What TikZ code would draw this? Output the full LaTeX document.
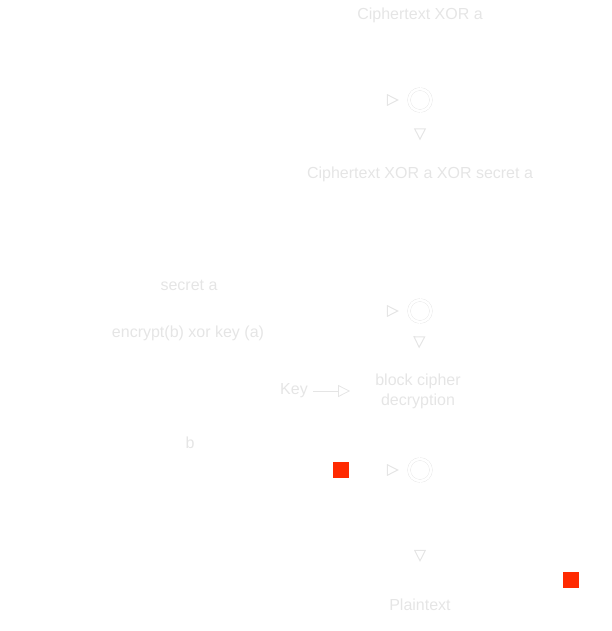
\documentclass[tikz,border=0pt]{standalone}
\usepackage{fontspec}
\setmainfont{Liberation Sans}
\usetikzlibrary{arrows.meta}
\definecolor{ghost}{gray}{0.9}
\definecolor{marker}{HTML}{FF2A00}
\tikzset{
  lbl/.style={text=ghost, font=\fontsize{16}{20}\selectfont, inner sep=0pt},
  xorc/.style={circle, draw=ghost, double=white, double distance=2.5pt, minimum size=22pt, inner sep=0pt},
  tiparrow/.style={-{Triangle[length=12pt,width=12pt,open,color=ghost]}},
  wire/.style={white, line width=1pt},
  keywire/.style={ghost, line width=0.8pt},
  redsq/.style={fill=marker, draw=none, minimum size=16pt, inner sep=0pt}
}
\begin{document}
\begin{tikzpicture}[x=1pt,y=-1pt]
\useasboundingbox (0,0) rectangle (611,631);
\node[lbl] (ct) at (420,15) {Ciphertext XOR a};
\node[xorc] (x1) at (420,100) {};
\node[lbl] (ct2) at (420,174) {Ciphertext XOR a XOR secret a};
\node[lbl] (sa) at (189,285) {secret a};
\node[lbl] (enc) at (188,333) {encrypt(b) xor key (a)};
\node[xorc] (x2) at (420,311) {};
\node[lbl, align=center] (bc) at (418,391) {block cipher\\decryption};
\node[lbl] (key) at (294,391) {Key};
\node[lbl] (b) at (190,443) {b};
\node[xorc] (x3) at (420,470) {};
\node[lbl] (pt) at (420,605) {Plaintext};

\draw[wire] (ct) -- (x1);
\draw[wire, tiparrow, shorten >=10pt] (sa) |- (x1.west);
\draw[wire, tiparrow, shorten >=26pt] (x1) -- (ct2);
\draw[wire] (ct2) -- (x2);
\draw[wire, tiparrow, shorten >=10pt] (enc) |- (x2.west);
\draw[wire, tiparrow, shorten >=25pt] (x2) -- (bc);
\draw[keywire, tiparrow, shorten <=5pt, shorten >=25pt] (key) -- (bc);
\draw[wire] (bc) -- (x3);
\draw[wire, tiparrow, shorten >=10pt] (b) |- (x3.west);
\draw[wire, tiparrow, shorten >=37pt] (x3) -- (pt);

\node[redsq] (r1) at (341,470) {};
\node[redsq] (r2) at (571,580) {};
\end{tikzpicture}
\end{document}
